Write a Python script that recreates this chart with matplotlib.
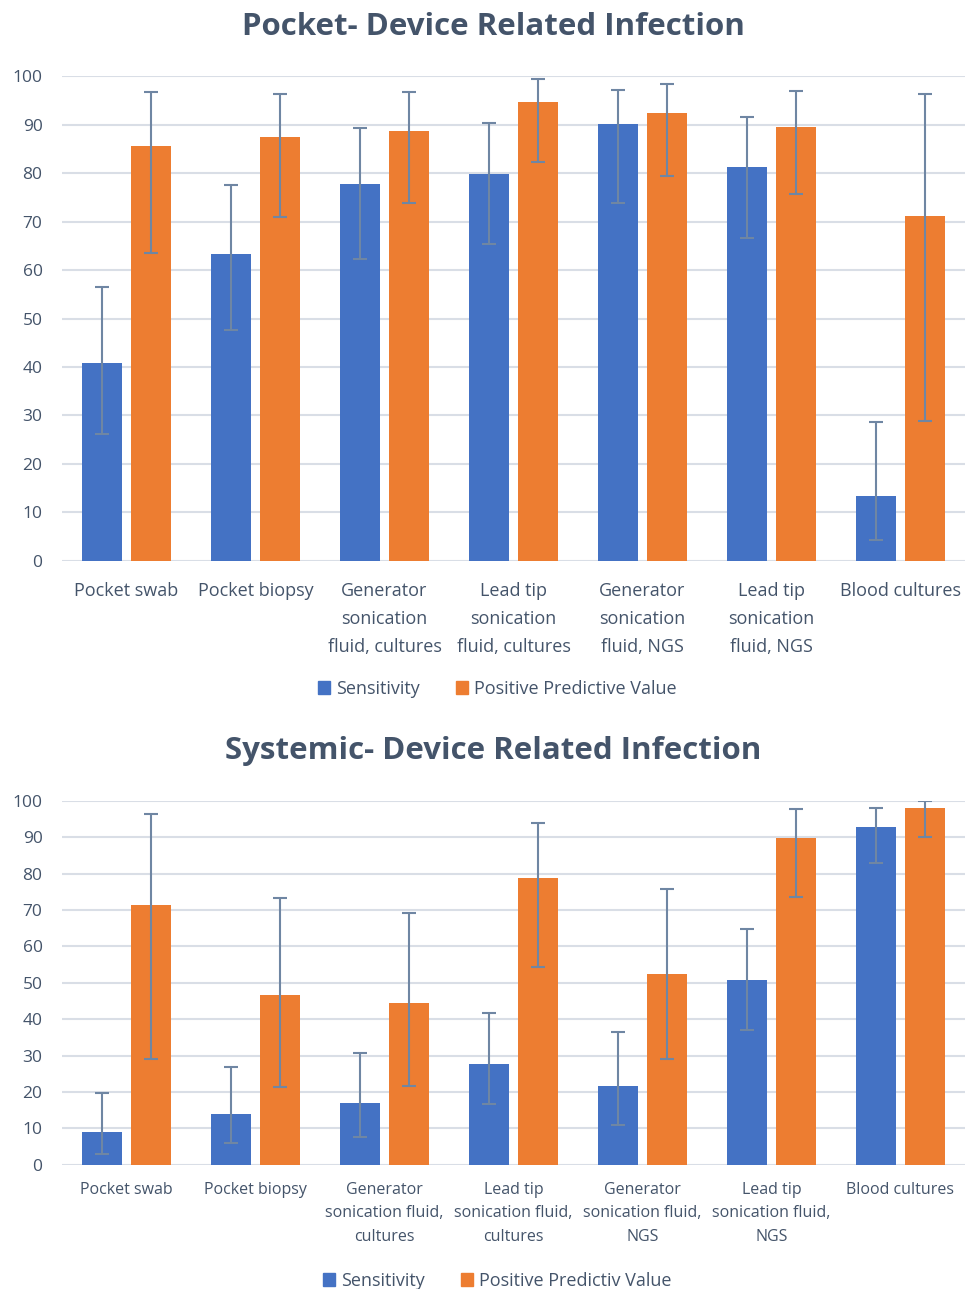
import matplotlib.pyplot as plt
import numpy as np
from matplotlib.patches import Patch

plt.rcParams['font.family'] = ['Open Sans', 'DejaVu Sans']

# Pocket device related infection
pocket_cats = ['Pocket swab', 'Pocket biopsy', 'Generator\nsonication\nfluid, cultures',
               'Lead tip\nsonication\nfluid, cultures', 'Generator\nsonication\nfluid, NGS',
               'Lead tip\nsonication\nfluid, NGS', 'Blood cultures']
pocket_sens = [40.8, 63.4, 77.8, 79.8, 90.1, 81.2, 13.3]
pocket_sens_lo = [26.2, 47.7, 62.3, 65.3, 73.8, 66.5, 4.3]
pocket_sens_hi = [56.6, 77.5, 89.3, 90.3, 97.2, 91.5, 28.7]
pocket_ppv = [85.6, 87.4, 88.7, 94.6, 92.4, 89.5, 71.2]
pocket_ppv_lo = [63.6, 70.9, 73.8, 82.2, 79.4, 75.7, 28.9]
pocket_ppv_hi = [96.8, 96.4, 96.8, 99.4, 98.3, 96.9, 96.2]

# Systemic device related infection
sys_cats = ['Pocket swab', 'Pocket biopsy', 'Generator\nsonication fluid,\ncultures',
            'Lead tip\nsonication fluid,\ncultures', 'Generator\nsonication fluid,\nNGS',
            'Lead tip\nsonication fluid,\nNGS', 'Blood cultures']
sys_sens = [8.9, 14.0, 16.9, 27.7, 21.7, 50.8, 92.9]
sys_sens_lo = [2.9, 5.9, 7.7, 16.6, 11.0, 36.9, 83.0]
sys_sens_hi = [19.6, 26.8, 30.8, 41.7, 36.4, 64.8, 98.1]
sys_ppv = [71.3, 46.6, 44.3, 78.8, 52.5, 89.8, 98.0]
sys_ppv_lo = [29.0, 21.4, 21.6, 54.4, 29.0, 73.5, 90.1]
sys_ppv_hi = [96.3, 73.4, 69.1, 93.9, 75.7, 97.8, 99.8]

BLUE = '#4472C4'
ORANGE = '#ED7D31'
TXT = '#44546A'
ERR = '#6F86A3'
GRID = '#D9DEE6'

fig = plt.figure(figsize=(9.65, 12.89), dpi=100)


def draw(ax, cats, sens, slo, shi, ppv, plo, phi, xfs, xpad, lsp):
    x = np.arange(len(cats))
    w = 0.31
    off = 0.19
    sens = np.array(sens); ppv = np.array(ppv)
    s_err = [sens - np.array(slo), np.array(shi) - sens]
    p_err = [ppv - np.array(plo), np.array(phi) - ppv]
    ek = dict(ecolor=ERR, elinewidth=1.5, capsize=5, capthick=1.5)
    ax.bar(x - off, sens, w, color=BLUE, yerr=s_err, error_kw=ek, zorder=3)
    ax.bar(x + off, ppv, w, color=ORANGE, yerr=p_err, error_kw=ek, zorder=3)
    ax.set_xlim(-0.5, len(cats) - 0.5)
    ax.set_ylim(0, 100)
    ax.set_yticks(range(0, 101, 10))
    ax.yaxis.grid(True, color=GRID, linewidth=1.5, zorder=0)
    ax.set_axisbelow(True)
    for s in ax.spines.values():
        s.set_visible(False)
    ax.tick_params(axis='y', length=0, pad=14, labelsize=12.5, labelcolor=TXT)
    ax.tick_params(axis='x', length=0, pad=xpad, labelsize=xfs, labelcolor=TXT)
    ax.set_xticks(x)
    ax.set_xticklabels(cats, linespacing=lsp)


ax1 = fig.add_axes([0.0642, 0.5648, 0.9358, 0.3762])
draw(ax1, pocket_cats, pocket_sens, pocket_sens_lo, pocket_sens_hi,
     pocket_ppv, pocket_ppv_lo, pocket_ppv_hi, 13, 15, 1.72)

ax2 = fig.add_axes([0.0642, 0.0964, 0.9358, 0.2824])
draw(ax2, sys_cats, sys_sens, sys_sens_lo, sys_sens_hi,
     sys_ppv, sys_ppv_lo, sys_ppv_hi, 11.5, 12.5, 1.6)

fig.text(0.511, 0.979, 'Pocket- Device Related Infection', ha='center', va='center',
         fontsize=22.5, fontweight='bold', color=TXT)
fig.text(0.511, 0.4175, 'Systemic- Device Related Infection', ha='center', va='center',
         fontsize=22.5, fontweight='bold', color=TXT)

h1 = [Patch(color=BLUE, label='Sensitivity'), Patch(color=ORANGE, label='Positive Predictive Value')]
fig.legend(handles=h1, loc='center', bbox_to_anchor=(0.515, 0.4655), ncol=2, frameon=False,
           fontsize=13, labelcolor=TXT, handlelength=0.7, handleheight=0.7,
           handletextpad=0.3, columnspacing=2.0)
h2 = [Patch(color=BLUE, label='Sensitivity'), Patch(color=ORANGE, label='Positive Predictiv Value')]
fig.legend(handles=h2, loc='center', bbox_to_anchor=(0.515, 0.0065), ncol=2, frameon=False,
           fontsize=13, labelcolor=TXT, handlelength=0.7, handleheight=0.7,
           handletextpad=0.3, columnspacing=2.0)

fig.savefig('out.png', dpi=100)
